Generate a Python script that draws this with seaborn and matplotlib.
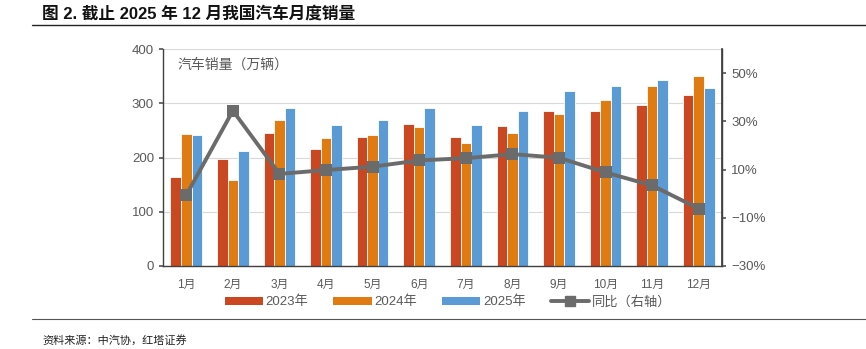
import numpy as np
import pandas as pd
import matplotlib
matplotlib.use("Agg")
import matplotlib.pyplot as plt
import seaborn as sns
from matplotlib.lines import Line2D
from matplotlib.patches import Patch

months = ["1月", "2月", "3月", "4月", "5月", "6月", "7月", "8月", "9月", "10月", "11月", "12月"]
sales_2023 = [164.9, 197.6, 245.1, 215.9, 238.2, 262.2, 238.7, 258.2, 285.8, 285.3, 297.0, 315.6]
sales_2024 = [243.9, 158.4, 269.4, 235.9, 241.7, 255.3, 226.2, 245.3, 280.9, 305.3, 331.7, 349.9]
sales_2025 = [242.3, 212.9, 291.5, 259.0, 268.6, 290.4, 259.3, 285.7, 322.7, 332.2, 342.9, 327.2]
yoy_pct = [-0.6, 34.4, 8.2, 9.8, 11.2, 13.8, 14.7, 16.4, 14.9, 8.8, 3.4, -6.2]
series_names = ["2023年", "2024年", "2025年"]
yoy_name = "同比（右轴）"
left_ticks = [0, 100, 200, 300, 400]
right_ticks = [-30, -10, 10, 30, 50]

colors = ["#CB4721", "#E07B12", "#5B9BD5"]
line_color = "#6B6B6B"
tick_color = "#595959"

sns.set_theme(style="white")
plt.rcParams["font.family"] = ["Liberation Sans", "Noto Sans CJK SC", "DejaVu Sans"]

df = pd.DataFrame({
    "month": months * 3,
    "value": sales_2023 + sales_2024 + sales_2025,
    "year": [series_names[0]] * 12 + [series_names[1]] * 12 + [series_names[2]] * 12,
})

fig = plt.figure(figsize=(8.66, 3.49), dpi=100)
ax = fig.add_axes([163 / 866, 1 - 266 / 349, (722 - 163) / 866, (266 - 49) / 349])

sns.barplot(data=df, x="month", y="value", hue="year", palette=colors, ax=ax,
            width=0.68, edgecolor="white", linewidth=0.6, legend=False, saturation=1)

ax.set_ylim(0, 400)
ax.set_yticks(left_ticks)
ax.set_xlim(-0.5, 11.5)
ax.set_xlabel("")
ax.set_ylabel("")
ax.grid(axis="y", color="#D9D9D9", linewidth=0.8)
ax.set_axisbelow(True)
ax.spines["top"].set_visible(False)
for s in ["left", "bottom", "right"]:
    ax.spines[s].set_color("#404040")
    ax.spines[s].set_linewidth(1.0)
ax.tick_params(axis="y", colors=tick_color, labelsize=9.5, length=3, left=True, direction="out")
ax.tick_params(axis="x", colors=tick_color, labelsize=8.5, length=0, pad=9)

ax2 = ax.twinx()
line_df = pd.DataFrame({"idx": np.arange(len(months)), "yoy": yoy_pct})
sns.lineplot(data=line_df, x="idx", y="yoy", ax=ax2, color=line_color, linewidth=2.8,
             marker="s", markersize=8.5, markeredgewidth=0, legend=False)
ax2.set_ylim(-30, 60)
ax2.set_yticks(right_ticks)
ax2.set_yticklabels([f"{t}%".replace("-", "−") for t in right_ticks])
ax2.set_ylabel("")
ax2.set_xlabel("")
ax2.set_xlim(-0.5, 11.5)
ax2.spines["top"].set_visible(False)
ax2.spines["left"].set_visible(False)
ax2.spines["bottom"].set_visible(False)
ax2.spines["right"].set_color("#404040")
ax2.tick_params(axis="y", colors=tick_color, labelsize=9.5, length=3, right=True, direction="out")

ax.text(0.025, 0.93, "汽车销量（万辆）", transform=ax.transAxes, fontsize=10,
        color="#595959", va="center", ha="left")

handles = [Patch(facecolor=c, edgecolor="none") for c in colors]
handles.append(Line2D([0], [0], color=line_color, linewidth=2.8, marker="s", markersize=7.5))
leg = fig.legend(handles, series_names + [yoy_name], loc="center", bbox_to_anchor=(448 / 866, 1 - 302 / 349),
                 ncol=4, frameon=False, fontsize=9.5, handlelength=2.9, handleheight=0.6,
                 columnspacing=1.9, handletextpad=0.2)
for t in leg.get_texts():
    t.set_color(tick_color)

fig.text(42 / 866, 1 - 14 / 349, "图 2. 截止 2025 年 12 月我国汽车月度销量", fontsize=12,
         fontweight="bold", va="center", ha="left", color="#111111")
fig.add_artist(Line2D([32 / 866, 1.0], [1 - 25 / 349, 1 - 25 / 349], color="#222222", linewidth=1.0))
fig.add_artist(Line2D([32 / 866, 1.0], [1 - 319 / 349, 1 - 319 / 349], color="#555555", linewidth=0.8))
fig.text(42 / 866, 1 - 340 / 349, "资料来源：中汽协，红塔证券", fontsize=8, va="center", ha="left", color="#222222")

fig.savefig("out.png", dpi=100)
